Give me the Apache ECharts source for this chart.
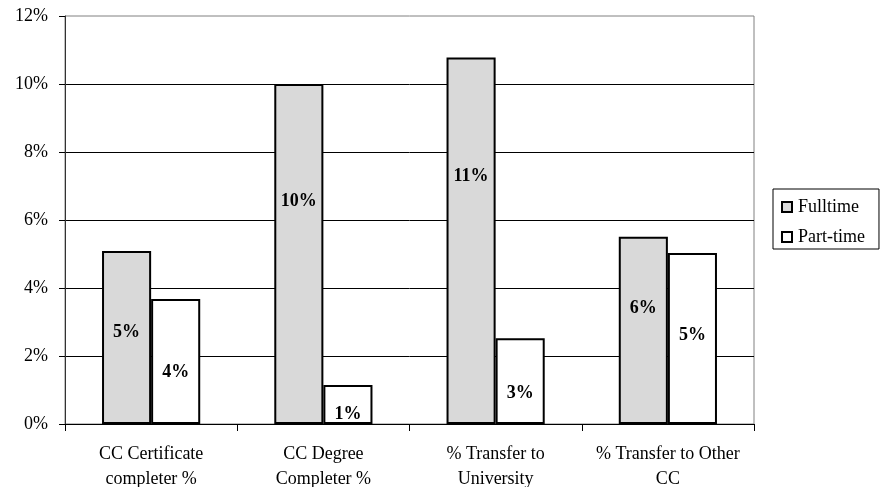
<!DOCTYPE html>
<html>
<head>
<meta charset="utf-8">
<script src="https://cdn.jsdelivr.net/npm/echarts@6/dist/echarts.min.js"></script>
<style>html,body{margin:0;padding:0;background:#fff}#c{width:881px;height:487px}</style>
</head>
<body>
<div id="c"></div>
<script>
const categories = ['CC Certificate\ncompleter %', 'CC Degree\nCompleter %', '% Transfer to\nUniversity', '% Transfer to Other\nCC'];
const fulltime = [5.09, 10.0, 10.78, 5.51];
const parttime = [3.68, 1.15, 2.52, 5.03];
const seriesNames = ['Fulltime', 'Part-time'];
const yTicks = [0, 2, 4, 6, 8, 10, 12];

// label vertical placement within each bar (style only)
const fullLabelY = ['47%', '34.5%', '32.5%', '38%'];
const partLabelY = ['58.5%', '76%', '64%', '48%'];

const font = 'Liberation Serif, Times New Roman, serif';
function build(vals, ys) {
  return vals.map((v, i) => ({ value: v, label: { position: ['50%', ys[i]] } }));
}
const chart = echarts.init(document.getElementById('c'));
chart.setOption({
  animation: false,
  textStyle: { fontFamily: font },
  grid: { left: 65, right: 127, top: 16, bottom: 63, containLabel: false, outerBoundsMode: 'none',
    show: true, borderColor: '#808080', borderWidth: 1 },
  legend: {
    data: seriesNames,
    orient: 'vertical',
    left: 773, top: 189,
    padding: [9, 14, 3, 8],
    itemGap: 12,
    itemWidth: 10, itemHeight: 10,
    icon: 'rect',
    borderColor: '#000', borderWidth: 1,
    textStyle: { fontFamily: font, fontSize: 18, color: '#000', lineHeight: 18, padding: [0, 0, 0, 1] }
  },
  xAxis: {
    type: 'category',
    data: categories,
    axisLine: { lineStyle: { color: '#000', width: 1 } },
    axisTick: { show: true, length: 7, lineStyle: { color: '#000' } },
    axisLabel: { fontFamily: font, fontSize: 18, color: '#000', lineHeight: 25, margin: 18, interval: 0 },
    splitLine: { show: false }
  },
  yAxis: {
    type: 'value',
    min: yTicks[0], max: yTicks[yTicks.length - 1], interval: 2,
    axisLine: { show: true, lineStyle: { color: '#333', width: 1 } },
    axisTick: { show: true, length: 6, lineStyle: { color: '#000' } },
    axisLabel: { fontFamily: font, fontSize: 18, color: '#000', margin: 17, formatter: '{value}%' },
    splitLine: { show: true, showMaxLine: false, lineStyle: { color: '#000', width: 1 } }
  },
  series: [
    {
      name: seriesNames[0], type: 'bar', barGap: '0%', barCategoryGap: '43%',
      data: build(fulltime, fullLabelY),
      itemStyle: { color: '#d9d9d9', borderColor: '#000', borderWidth: 2 },
      label: { show: true, fontFamily: font, fontSize: 18, fontWeight: 'bold', color: '#000', align: 'center', verticalAlign: 'middle',
        formatter: p => Math.round(p.value) + '%' }
    },
    {
      name: seriesNames[1], type: 'bar', barGap: '0%', barCategoryGap: '43%',
      data: build(parttime, partLabelY),
      itemStyle: { color: '#ffffff', borderColor: '#000', borderWidth: 2 },
      label: { show: true, fontFamily: font, fontSize: 18, fontWeight: 'bold', color: '#000', align: 'center', verticalAlign: 'middle',
        formatter: p => Math.round(p.value) + '%' }
    }
  ]
});
</script>
</body>
</html>
